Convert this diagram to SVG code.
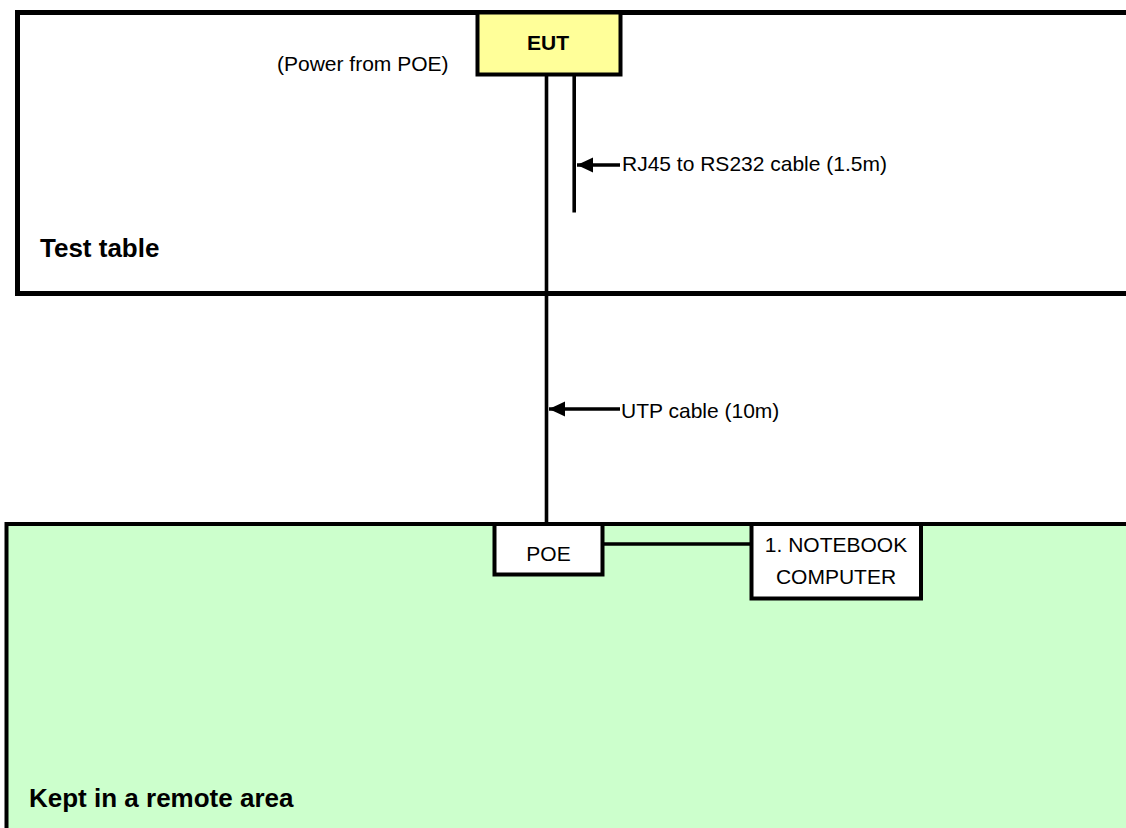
<svg xmlns="http://www.w3.org/2000/svg" width="1126" height="828" viewBox="0 0 1126 828">
<style>
.area{stroke:#000;}
.box{fill:#fff;stroke:#000;stroke-width:4;}
.wire{stroke:#000;stroke-width:3.6;fill:none;}
.lbl{font-family:"Liberation Sans",Arial,sans-serif;font-size:21px;fill:#000;}
.big{font-family:"Liberation Sans",Arial,sans-serif;font-size:26px;font-weight:bold;fill:#000;}
</style>
<defs>
<marker id="arr" markerUnits="userSpaceOnUse" markerWidth="17" markerHeight="16" refX="16" refY="8" orient="auto">
<path d="M16,8 L0,0.5 L0,15.5 Z" fill="#000"/>
</marker>
</defs>
<rect width="1126" height="828" fill="#fff"/>
<g id="test-table">
<rect class="area" x="17.5" y="12.5" width="1130" height="281" fill="#fff" stroke-width="5"/>
<text class="big" x="40" y="257">Test table</text>
</g>
<g id="remote-area">
<rect class="area" x="6.5" y="524" width="1140" height="320" fill="#CCFFCC" stroke-width="4"/>
<text class="big" x="29" y="807">Kept in a remote area</text>
</g>
<g id="connectors">
<line class="wire" x1="546.5" y1="74" x2="546.5" y2="524"/>
<line class="wire" x1="574.2" y1="74" x2="574.2" y2="212.5"/>
<line class="wire" x1="603" y1="544" x2="751" y2="544"/>
<line class="wire" x1="620" y1="165" x2="577" y2="165" stroke-width="3.2" marker-end="url(#arr)"/>
<line class="wire" x1="620" y1="409" x2="549" y2="409" stroke-width="3.2" marker-end="url(#arr)"/>
<text class="lbl" x="622" y="171">RJ45 to RS232 cable (1.5m)</text>
<text class="lbl" x="621" y="418">UTP cable (10m)</text>
</g>
<g id="eut">
<rect x="477.5" y="12.5" width="143" height="62" fill="#FFFF99" stroke="#000" stroke-width="4"/>
<text class="lbl" x="548" y="50" text-anchor="middle" font-weight="bold">EUT</text>
<text class="lbl" x="277" y="70.5">(Power from POE)</text>
</g>
<g id="poe">
<rect class="box" x="494.5" y="524" width="108" height="50.5"/>
<text class="lbl" x="548.5" y="561" text-anchor="middle">POE</text>
</g>
<g id="notebook">
<rect class="box" x="751.5" y="524" width="169.5" height="74.5"/>
<text class="lbl" x="836" y="552" text-anchor="middle">1. NOTEBOOK</text>
<text class="lbl" x="836" y="583.5" text-anchor="middle">COMPUTER</text>
</g>
</svg>
